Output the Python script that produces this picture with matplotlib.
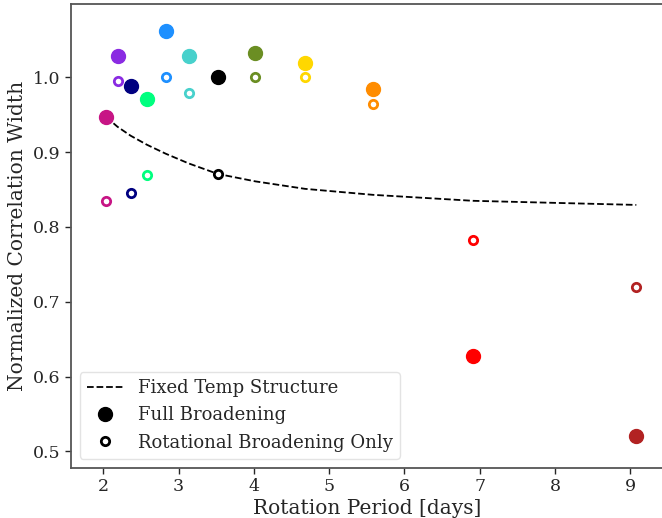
import matplotlib
matplotlib.use("Agg")
import matplotlib.pyplot as plt
from matplotlib.lines import Line2D

plt.rcParams['font.family'] = ['DejaVu Serif']

# Rotation periods (days) and star colours
periods = [2.04, 2.19, 2.365, 2.58, 2.83, 3.135, 3.52, 4.02, 4.68, 5.58, 6.91, 9.08]
colors = ['mediumvioletred', 'blueviolet', 'navy', 'springgreen', 'dodgerblue',
          'mediumturquoise', 'black', 'olivedrab', 'gold', 'darkorange', 'red', 'firebrick']

# Normalized correlation widths
full_broadening = [0.947, 1.029, 0.988, 0.971, 1.062, 1.029, 1.001, 1.032, 1.019, 0.984, 0.628, 0.520]
rot_broadening = [0.835, 0.995, 0.845, 0.870, 1.001, 0.979, 0.871, 1.001, 1.001, 0.964, 0.783, 0.720]

# Fixed temperature structure model at each period
fixed_temp = [0.947, 0.934, 0.922, 0.910, 0.898, 0.885, 0.871, 0.861, 0.851, 0.843, 0.835, 0.8295]

fig = plt.figure(figsize=(6.62, 5.18), dpi=100)
ax = fig.add_axes([0.107, 0.097, 0.894, 0.895])

ax.plot(periods, fixed_temp, ls='--', color='black', lw=1.3, zorder=1)
for p, f, r, c in zip(periods, full_broadening, rot_broadening, colors):
    ax.plot(p, f, 'o', color=c, ms=10, zorder=3)
    ax.plot(p, r, 'o', mfc='white', mec=c, ms=6, mew=2, zorder=3)

ax.set_xlim(1.57, 9.43)
ax.set_ylim(0.478, 1.098)
ax.set_xticks([2, 3, 4, 5, 6, 7, 8, 9])
ax.set_yticks([0.5, 0.6, 0.7, 0.8, 0.9, 1.0])

ax.set_xlabel('Rotation Period [days]', fontsize=14.5, color='#262626', labelpad=3)
ax.set_ylabel('Normalized Correlation Width', fontsize=14.5, color='#262626')
ax.tick_params(labelsize=12.5, colors='#262626', length=4, width=1)
for s in ax.spines.values():
    s.set_color('#555555')
    s.set_linewidth(1.3)

handles = [
    Line2D([], [], ls='--', color='black', lw=1.3),
    Line2D([], [], marker='o', ls='', color='black', ms=10),
    Line2D([], [], marker='o', ls='', mfc='white', mec='black', ms=6, mew=2),
]
labels = ['Fixed Temp Structure', 'Full Broadening', 'Rotational Broadening Only']
leg = ax.legend(handles, labels, loc='lower left', fontsize=13, handlelength=2.0,
                frameon=True, fancybox=True, edgecolor='#dddddd')
for t in leg.get_texts():
    t.set_color('#262626')

fig.savefig('out.png', dpi=100)
